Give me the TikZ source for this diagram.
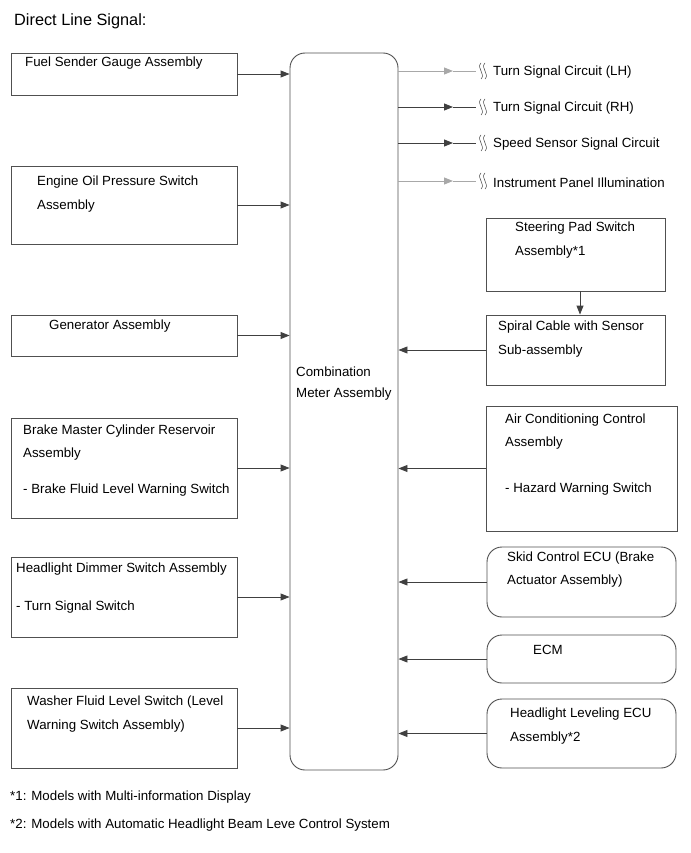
\documentclass[tikz,border=0pt]{standalone}
\usepackage{fontspec}
\setmainfont{Liberation Sans}
\usetikzlibrary{arrows.meta}
\definecolor{ln}{HTML}{404040}
\definecolor{bd}{HTML}{505050}
\definecolor{lg}{HTML}{A8A8A8}
\tikzset{
  box/.style={draw=bd, line width=0.9pt, inner sep=0pt, fill=white},
  rbox/.style={box, rounded corners=15pt},
  txt/.style={anchor=west, inner sep=0pt, yshift=-1.5pt, font=\fontsize{13.3}{15}\selectfont},
  arr/.style={draw=ln, line width=0.9pt, -{Triangle[length=9pt,width=7pt]}},
  plain/.style={draw=ln, line width=0.9pt},
  squig/.style={draw=ln, line width=0.5pt}
}
\begin{document}
\begin{tikzpicture}[x=1pt,y=-1pt]
\useasboundingbox (0,0) rectangle (690,853);
\node[txt, font=\fontsize{16.3}{18}\selectfont] (title) at (14,20) {Direct Line Signal:};

% central box
\node[rbox, minimum width=108pt, minimum height=717pt] (meter) at (344,411.5) {};
\node[txt] (mt1) at (296,370) {Combination};
\node[txt] (mt2) at (296,393) {Meter Assembly};

% left boxes
\node[box, minimum width=226pt, minimum height=42pt] (fuel) at (124,74) {};
\node[txt] (fuelt) at (25,62) {Fuel Sender Gauge Assembly};

\node[box, minimum width=226pt, minimum height=78pt] (oil) at (124,205) {};
\node[txt] (oilt1) at (37,181) {Engine Oil Pressure Switch};
\node[txt] (oilt2) at (37,205) {Assembly};

\node[box, minimum width=226pt, minimum height=41pt] (gen) at (124,335.5) {};
\node[txt] (gent) at (49,325) {Generator Assembly};

\node[box, minimum width=226pt, minimum height=100pt] (brake) at (124,468) {};
\node[txt] (brt1) at (23,430) {Brake Master Cylinder Reservoir};
\node[txt] (brt2) at (23,453) {Assembly};
\node[txt] (brt3) at (23,489) {- Brake Fluid Level Warning Switch};

\node[box, minimum width=226pt, minimum height=80pt] (dim) at (124,597) {};
\node[txt] (dimt1) at (16,568) {Headlight Dimmer Switch Assembly};
\node[txt] (dimt2) at (16,606) {- Turn Signal Switch};

\node[box, minimum width=226pt, minimum height=80pt] (wash) at (124,728) {};
\node[txt] (wat1) at (27,701) {Washer Fluid Level Switch (Level};
\node[txt] (wat2) at (27,725) {Warning Switch Assembly)};

\foreach \b in {fuel,oil,gen,brake,dim,wash}
  \draw[arr] (\b.east) -- (\b.east -| meter.west);

% outputs
\foreach \i/\y/\c/\t in {1/71/lg/Turn Signal Circuit (LH),2/107/ln/Turn Signal Circuit (RH),3/143/ln/Speed Sensor Signal Circuit,4/181/lg/Instrument Panel Illumination}{
  \coordinate (a\i) at (453,\y);
  \coordinate (o\i) at (476,\y);
  \draw[arr, draw=\c] (meter.east |- a\i) -- (a\i);
  \draw[plain, draw=\c] (a\i) -- (o\i);
  \draw[squig] (481,\y-8) .. controls (476,\y-3) and (486,\y+3) .. (481,\y+8);
  \draw[squig] (485,\y-8) .. controls (480,\y-3) and (490,\y+3) .. (485,\y+8);
  \node[txt] (ot\i) at (493,\y) {\t};
}

% right boxes
\node[box, minimum width=179pt, minimum height=73pt] (steer) at (575.5,254.5) {};
\node[txt] (stt1) at (515,227) {Steering Pad Switch};
\node[txt] (stt2) at (515,251) {Assembly*1};

\node[box, minimum width=179pt, minimum height=70pt] (spiral) at (575.5,350) {};
\node[txt] (spt1) at (498,326) {Spiral Cable with Sensor};
\node[txt] (spt2) at (498,350) {Sub-assembly};
\draw[arr] (steer.south -| 580,0) -- (spiral.north -| 580,0);

\node[box, minimum width=191pt, minimum height=125pt] (ac) at (581.5,468.5) {};
\node[txt] (act1) at (505,419) {Air Conditioning Control};
\node[txt] (act2) at (505,442) {Assembly};
\node[txt] (act3) at (505,488) {- Hazard Warning Switch};

\node[rbox, minimum width=189pt, minimum height=70pt] (skid) at (581.5,582) {};
\node[txt] (skt1) at (507,557) {Skid Control ECU (Brake};
\node[txt] (skt2) at (507,580) {Actuator Assembly)};

\node[rbox, minimum width=189pt, minimum height=48pt] (ecm) at (581.5,659) {};
\node[txt] (ecmt) at (533,648) {ECM};

\node[rbox, minimum width=189pt, minimum height=69pt] (hll) at (581.5,733.5) {};
\node[txt] (hlt1) at (510,713) {Headlight Leveling ECU};
\node[txt] (hlt2) at (510,737) {Assembly*2};

\foreach \b in {spiral,ac,skid,ecm,hll}
  \draw[arr] (\b.west) -- (\b.west -| meter.east);

% footnotes
\node[txt] (fn1) at (10,796) {*1: Models with Multi-information Display};
\node[txt] (fn2) at (10,824) {*2: Models with Automatic Headlight Beam Leve Control System};
\end{tikzpicture}
\end{document}
